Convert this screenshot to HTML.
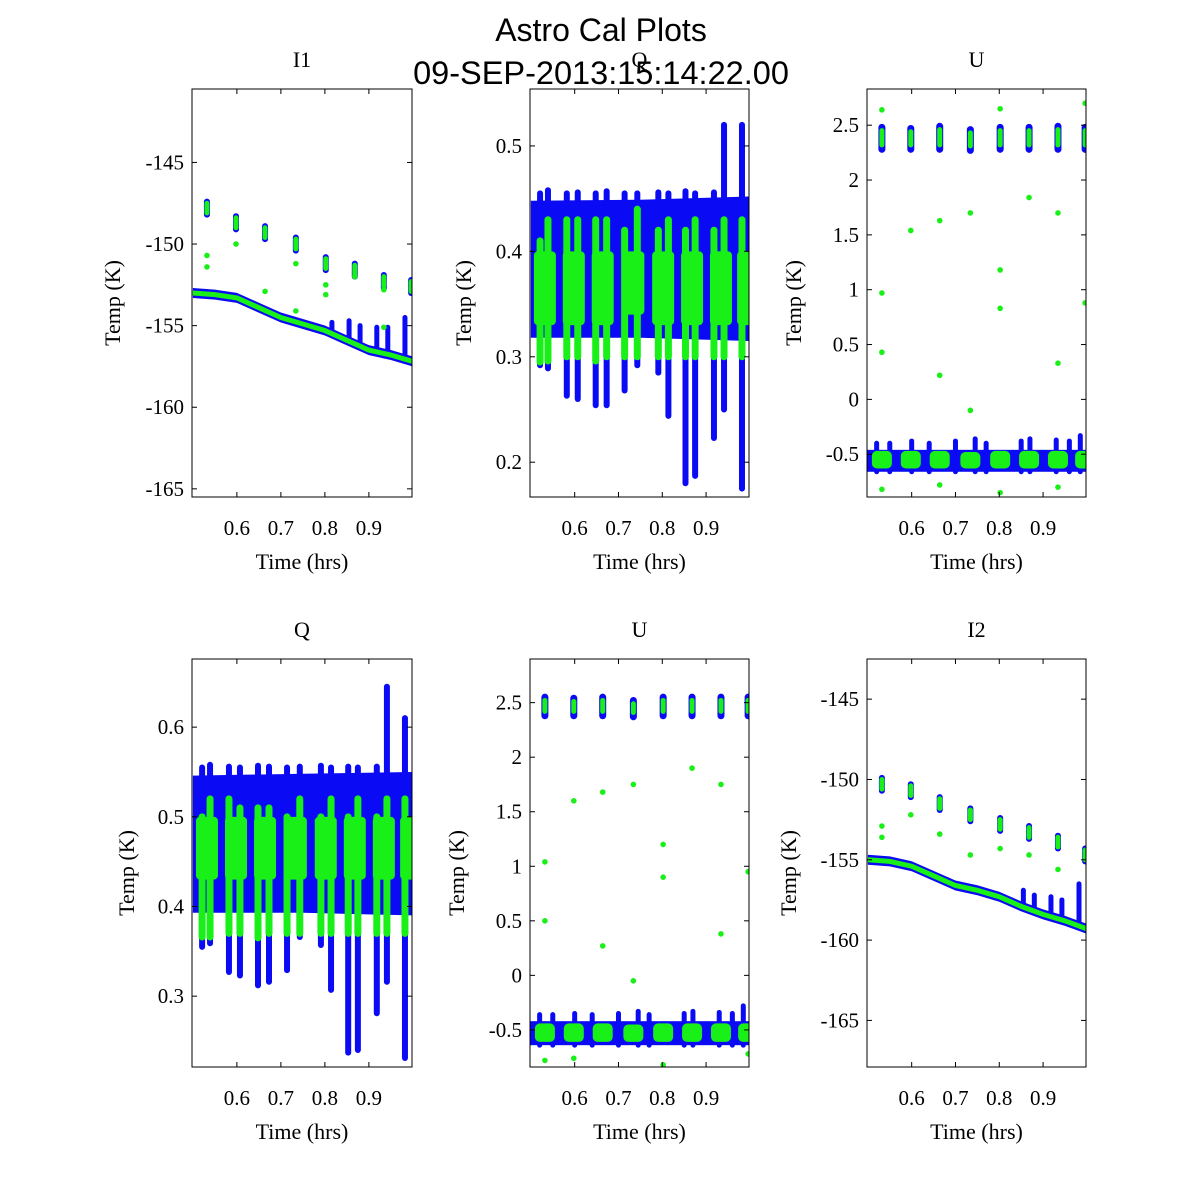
<!DOCTYPE html>
<html><head><meta charset="utf-8"><title>Astro Cal Plots</title>
<style>
html,body{margin:0;padding:0;background:#fff;}
svg{display:block;}
text{font-family:"Liberation Serif",serif;fill:#000;}
.sans{font-family:"Liberation Sans",sans-serif;}
</style></head>
<body>
<svg id="fig" width="1200" height="1200" viewBox="0 0 1200 1200" xmlns="http://www.w3.org/2000/svg">
<rect width="1200" height="1200" fill="#fff"/>
<text class="sans" x="601" y="41" font-size="32" text-anchor="middle">Astro Cal Plots</text>
<g id="panels"></g>
<text class="sans" x="601" y="84" font-size="32.5" text-anchor="middle">09-SEP-2013:15:14:22.00</text>
</svg>
<script>
// shared
const xTicks = [0.6, 0.7, 0.8, 0.9];
const cycT = [0.532, 0.598, 0.664, 0.734, 0.802, 0.868, 0.934, 0.996];
const qSpikeT = [0.521,0.539,0.582,0.607,0.648,0.673,0.714,0.743,0.791,0.814,0.853,0.875,0.918,0.941,0.982];

// I1
const i1Ticks = [-145, -150, -155, -160, -165];
const i1LineT = [0.5,0.55,0.6,0.65,0.7,0.75,0.8,0.85,0.9,0.95,1.0];
const i1LineV = [-153.0,-153.1,-153.3,-153.9,-154.5,-154.9,-155.3,-155.9,-156.5,-156.8,-157.2];
const i1SpikeT = [0.816,0.855,0.880,0.918,0.943,0.982];
const i1SpikeTop = [-154.8,-154.7,-155.0,-155.1,-155.1,-154.5];
const i1CalV = [-147.8,-148.7,-149.3,-150.0,-151.2,-151.6,-152.3,-152.6];
const i1OutT = [0.532,0.532,0.598,0.664,0.734,0.734,0.802,0.802,0.868,0.934,0.934];
const i1OutV = [-150.7,-151.4,-150.0,-152.9,-151.2,-154.1,-152.5,-153.1,-152.0,-152.8,-155.1];

// I2
const i2Ticks = [-145, -150, -155, -160, -165];
const i2LineV = [-155.0,-155.1,-155.4,-156.0,-156.6,-156.9,-157.3,-157.9,-158.4,-158.8,-159.3];
const i2SpikeT = [0.855,0.880,0.918,0.943,0.982];
const i2SpikeTop = [-156.9,-157.2,-157.3,-157.5,-156.5];
const i2CalV = [-150.3,-150.7,-151.5,-152.2,-152.8,-153.3,-153.9,-154.7];
const i2OutT = [0.532,0.532,0.598,0.664,0.734,0.802,0.868,0.934];
const i2OutV = [-152.9,-153.6,-152.2,-153.4,-154.7,-154.3,-154.7,-155.6];

// Q1
const q1Ticks = [0.2, 0.3, 0.4, 0.5];
const q1BandT = [0.5, 0.75, 1.0];
const q1BandHi = [0.448, 0.449, 0.452];
const q1BandLo = [0.318, 0.318, 0.315];
const q1SpikeMin = [0.292,0.289,0.263,0.260,0.254,0.254,0.268,0.292,0.285,0.244,0.180,0.187,0.223,0.250,0.175];
const q1SpikeMax = [0.455,0.458,0.455,0.456,0.455,0.457,0.455,0.455,0.456,0.455,0.457,0.455,0.456,0.52,0.52];
const q1GreenLo = [0.295,0.296,0.300,0.300,0.296,0.300,0.300,0.300,0.300,0.300,0.300,0.300,0.300,0.300,0.300];
const q1GreenHi = [0.41,0.43,0.43,0.43,0.43,0.43,0.42,0.44,0.42,0.43,0.42,0.43,0.42,0.43,0.43];
const q1BlobLo = [0.33,0.33,0.33,0.34,0.33,0.33,0.33,0.33];
const q1BlobHi = [0.40,0.40,0.40,0.40,0.40,0.40,0.40,0.40];

// Q2
const q2Ticks = [0.3, 0.4, 0.5, 0.6];
const q2BandT = [0.5, 0.75, 1.0];
const q2BandHi = [0.546, 0.548, 0.550];
const q2BandLo = [0.393, 0.393, 0.390];
const q2SpikeMin = [0.355,0.359,0.327,0.323,0.312,0.316,0.329,0.366,0.357,0.307,0.237,0.240,0.281,0.316,0.231];
const q2SpikeMax = [0.555,0.558,0.556,0.555,0.557,0.556,0.555,0.556,0.557,0.555,0.556,0.555,0.556,0.645,0.61];
const q2GreenLo = [0.366,0.366,0.37,0.37,0.365,0.37,0.37,0.37,0.37,0.37,0.37,0.37,0.37,0.37,0.37];
const q2GreenHi = [0.50,0.52,0.52,0.51,0.51,0.51,0.50,0.52,0.50,0.52,0.50,0.52,0.50,0.52,0.52];
const q2BlobLo = [0.43,0.43,0.43,0.43,0.43,0.43,0.43,0.43];
const q2BlobHi = [0.50,0.50,0.50,0.50,0.50,0.50,0.50,0.50];

// U1
const uTicks = [-0.5, 0, 0.5, 1, 1.5, 2, 2.5];
const u1BandLo = -0.66, u1BandHi = -0.46;
const u1BlobLo = [-0.63,-0.63,-0.63,-0.63,-0.63,-0.63,-0.63,-0.63];
const u1BlobHi = [-0.47,-0.47,-0.47,-0.48,-0.47,-0.47,-0.47,-0.47];
const u1CalLo = [2.28,2.28,2.28,2.27,2.28,2.28,2.28,2.28];
const u1CalHi = [2.48,2.47,2.49,2.46,2.48,2.48,2.49,2.48];
const uSpikeT = [0.52,0.55,0.60,0.64,0.70,0.745,0.77,0.85,0.87,0.93,0.96,0.985];
const u1SpikeTop = [-0.40,-0.40,-0.38,-0.40,-0.38,-0.36,-0.40,-0.38,-0.36,-0.37,-0.38,-0.33];
const u1OutT = [0.532,0.532,0.532,0.598,0.664,0.664,0.734,0.734,0.802,0.802,0.802,0.868,0.934,0.934,0.996,0.996,0.532,0.664,0.802,0.934];
const u1OutV = [2.64,0.97,0.43,1.54,0.22,1.63,1.70,-0.10,1.18,0.83,2.65,1.84,1.70,0.33,0.88,2.70,-0.82,-0.78,-0.85,-0.80];

// U2
const u2BandLo = -0.64, u2BandHi = -0.42;
const u2BlobLo = [-0.61,-0.61,-0.61,-0.61,-0.61,-0.61,-0.61,-0.61];
const u2BlobHi = [-0.44,-0.44,-0.44,-0.45,-0.44,-0.44,-0.44,-0.44];
const u2CalLo = [2.38,2.38,2.38,2.37,2.38,2.38,2.38,2.38];
const u2CalHi = [2.55,2.54,2.55,2.52,2.55,2.55,2.55,2.55];
const u2SpikeTop = [-0.36,-0.36,-0.35,-0.36,-0.35,-0.33,-0.36,-0.35,-0.33,-0.34,-0.35,-0.28];
const u2OutT = [0.532,0.532,0.598,0.664,0.664,0.734,0.734,0.802,0.802,0.868,0.934,0.934,0.996,0.532,0.598,0.802,0.996];
const u2OutV = [1.04,0.50,1.60,1.68,0.27,1.75,-0.05,1.20,0.90,1.90,1.75,0.38,0.95,-0.78,-0.76,-0.82,-0.72];

const BLUE = '#0a0af5', GREEN = '#18f018';
const NS = 'http://www.w3.org/2000/svg';
const root = document.getElementById('panels');

function mk(tag, attrs, parent) {
  const e = document.createElementNS(NS, tag);
  for (const k in attrs) e.setAttribute(k, attrs[k]);
  parent.appendChild(e);
  return e;
}
function interp(ts, vs, t) {
  if (t <= ts[0]) return vs[0];
  for (let i = 1; i < ts.length; i++) if (t <= ts[i]) {
    const f = (t - ts[i-1]) / (ts[i] - ts[i-1]); return vs[i-1] + f * (vs[i] - vs[i-1]);
  }
  return vs[vs.length - 1];
}

let clipId = 0;
function panel(cfg) {
  const x0 = cfg.x0, y0 = cfg.y0, w = cfg.w, h = 408;
  const sx = t => x0 + (t - 0.498) / 0.5 * w;
  const sy = v => y0 + (cfg.ymax - v) / (cfg.ymax - cfg.ymin) * h;
  const g = mk('g', {}, root);
  
  
  const cid = 'clip' + (clipId++);
  const cp = mk('clipPath', { id: cid }, g);
  mk('rect', { x: x0, y: y0, width: w, height: h }, cp);
  const data = mk('g', { 'clip-path': 'url(#' + cid + ')' }, g);
  
  
  cfg.draw(data, sx, sy);
  const fr = mk('rect', { x: x0, y: y0, width: w, height: h, fill: 'none', stroke: '#000', 'stroke-width': 1 }, g);
  
  
  xTicks.forEach(t => {
    const x = sx(t);
    mk('line', { x1: x, y1: y0 + h, x2: x, y2: y0 + h - 5, stroke: '#000' }, g);
    mk('line', { x1: x, y1: y0, x2: x, y2: y0 + 5, stroke: '#000' }, g);
    const tx = mk('text', { x: x, y: y0 + h + 38, 'font-size': 21, 'text-anchor': 'middle' }, g);
    tx.textContent = String(t);
    
    
  });
  cfg.ticks.forEach(v => {
    const y = sy(v);
    mk('line', { x1: x0, y1: y, x2: x0 + 5, y2: y, stroke: '#000' }, g);
    mk('line', { x1: x0 + w, y1: y, x2: x0 + w - 5, y2: y, stroke: '#000' }, g);
    const tx = mk('text', { x: x0 - 8, y: y + 7, 'font-size': 21, 'text-anchor': 'end' }, g);
    tx.textContent = String(v);
    
    
  });
  const xl = mk('text', { x: x0 + w / 2, y: y0 + h + 72, 'font-size': 22, 'text-anchor': 'middle' }, g);
  xl.textContent = 'Time (hrs)';
  
  
  const yl = mk('text', { x: 0, y: 0, 'font-size': 22, 'text-anchor': 'middle', transform: 'translate(' + cfg.ylabX + ',' + (y0 + h / 2 + 10) + ') rotate(-90)' }, g);
  yl.textContent = 'Temp (K)';
  
  
  const tl = mk('text', { x: x0 + w / 2, y: y0 - 22, 'font-size': 22, 'text-anchor': 'middle' }, g);
  tl.textContent = cfg.title;
  
  
}

function vline(p, x, ya, yb, color, wd, name) {
  const l = mk('line', { x1: x, y1: ya, x2: x, y2: yb, stroke: color, 'stroke-width': wd, 'stroke-linecap': 'round' }, p);
  
  
}
function dot(p, x, y, color, name) {
  const c = mk('circle', { cx: x, cy: y, r: 2.8, fill: color }, p);
  
  
}

function drawI(lineV, spikeT, spikeTop, calV, outT, outV) {
  return function (p, sx, sy) {
    let up = i1LineT.map((t, i) => sx(t) + ',' + (sy(lineV[i]) - 5));
    let dn = i1LineT.map((t, i) => sx(t) + ',' + (sy(lineV[i]) + 5)).reverse();
    const band = mk('polygon', { points: up.concat(dn).join(' '), fill: BLUE }, p);
    
    
    spikeT.forEach((t, i) => vline(p, sx(t), sy(spikeTop[i]), sy(interp(i1LineT, lineV, t)), BLUE, 5, 'blue-spike'));
    calV.forEach((v, i) => vline(p, sx(cycT[i]), sy(v + 0.4), sy(v - 0.4), BLUE, 6, 'blue-cal-cluster'));
    const gl = mk('polyline', { points: i1LineT.map((t, i) => sx(t) + ',' + sy(lineV[i])).join(' '), fill: 'none', stroke: GREEN, 'stroke-width': 5 }, p);
    
    
    calV.forEach((v, i) => vline(p, sx(cycT[i]), sy(v + 0.3), sy(v - 0.3), GREEN, 5, 'green-cal-cluster'));
    outT.forEach((t, i) => dot(p, sx(t), sy(outV[i]), GREEN, 'green-outlier'));
  };
}
function drawQ(bT, bHi, bLo, sMin, sMax, gLo, gHi, blLo, blHi) {
  return function (p, sx, sy) {
    let up = bT.map((t, i) => sx(t) + ',' + sy(bHi[i]));
    let dn = bT.map((t, i) => sx(t) + ',' + sy(bLo[i])).reverse();
    const band = mk('polygon', { points: up.concat(dn).join(' '), fill: BLUE }, p);
    
    
    qSpikeT.forEach((t, i) => vline(p, sx(t), sy(sMax[i]), sy(sMin[i]), BLUE, 6, 'blue-spike'));
    cycT.forEach((t, i) => {
      const r = mk('rect', { x: sx(t) - 11, y: sy(blHi[i]), width: 22, height: sy(blLo[i]) - sy(blHi[i]), fill: GREEN, rx: 4 }, p);
      
      
    });
    qSpikeT.forEach((t, i) => vline(p, sx(t), sy(gHi[i]), sy(gLo[i]), GREEN, 7, 'green-column'));
  };
}
function drawU(bLo, bHi, blLo, blHi, cLo, cHi, sTop, outT, outV) {
  return function (p, sx, sy) {
    const band = mk('rect', { x: sx(0.498), y: sy(bHi), width: sx(1.0) - sx(0.498), height: sy(bLo) - sy(bHi), fill: BLUE }, p);
    
    
    uSpikeT.forEach((t, i) => vline(p, sx(t), sy(sTop[i]), sy(bLo), BLUE, 5, 'blue-spike'));
    cycT.forEach((t, i) => {
      const r = mk('rect', { x: sx(t) - 10, y: sy(blHi[i]), width: 20, height: sy(blLo[i]) - sy(blHi[i]), fill: GREEN, rx: 5 }, p);
      
      
      vline(p, sx(t), sy(cHi[i]), sy(cLo[i]), BLUE, 7, 'blue-cal-cluster');
      vline(p, sx(t), sy(cHi[i] - 0.03), sy(cLo[i] + 0.04), GREEN, 5, 'green-cal-cluster');
    });
    outT.forEach((t, i) => dot(p, sx(t), sy(outV[i]), GREEN, 'green-outlier'));
  };
}

panel({ name: 'i1', title: 'I1', x0: 192, y0: 89, w: 220, ymin: -165.5, ymax: -140.5, ticks: i1Ticks, ylabX: 120,
  draw: drawI(i1LineV, i1SpikeT, i1SpikeTop, i1CalV, i1OutT, i1OutV) });
panel({ name: 'q-top', title: 'Q', x0: 530, y0: 89, w: 219, ymin: 0.167, ymax: 0.554, ticks: q1Ticks, ylabX: 471,
  draw: drawQ(q1BandT, q1BandHi, q1BandLo, q1SpikeMin, q1SpikeMax, q1GreenLo, q1GreenHi, q1BlobLo, q1BlobHi) });
panel({ name: 'u-top', title: 'U', x0: 867, y0: 89, w: 219, ymin: -0.89, ymax: 2.83, ticks: uTicks, ylabX: 801,
  draw: drawU(u1BandLo, u1BandHi, u1BlobLo, u1BlobHi, u1CalLo, u1CalHi, u1SpikeTop, u1OutT, u1OutV) });
panel({ name: 'q-bottom', title: 'Q', x0: 192, y0: 659, w: 220, ymin: 0.221, ymax: 0.676, ticks: q2Ticks, ylabX: 134,
  draw: drawQ(q2BandT, q2BandHi, q2BandLo, q2SpikeMin, q2SpikeMax, q2GreenLo, q2GreenHi, q2BlobLo, q2BlobHi) });
panel({ name: 'u-bottom', title: 'U', x0: 530, y0: 659, w: 219, ymin: -0.84, ymax: 2.90, ticks: uTicks, ylabX: 464,
  draw: drawU(u2BandLo, u2BandHi, u2BlobLo, u2BlobHi, u2CalLo, u2CalHi, u2SpikeTop, u2OutT, u2OutV) });
panel({ name: 'i2', title: 'I2', x0: 867, y0: 659, w: 219, ymin: -167.9, ymax: -142.5, ticks: i2Ticks, ylabX: 796,
  draw: drawI(i2LineV, i2SpikeT, i2SpikeTop, i2CalV, i2OutT, i2OutV) });
</script>
</body></html>
